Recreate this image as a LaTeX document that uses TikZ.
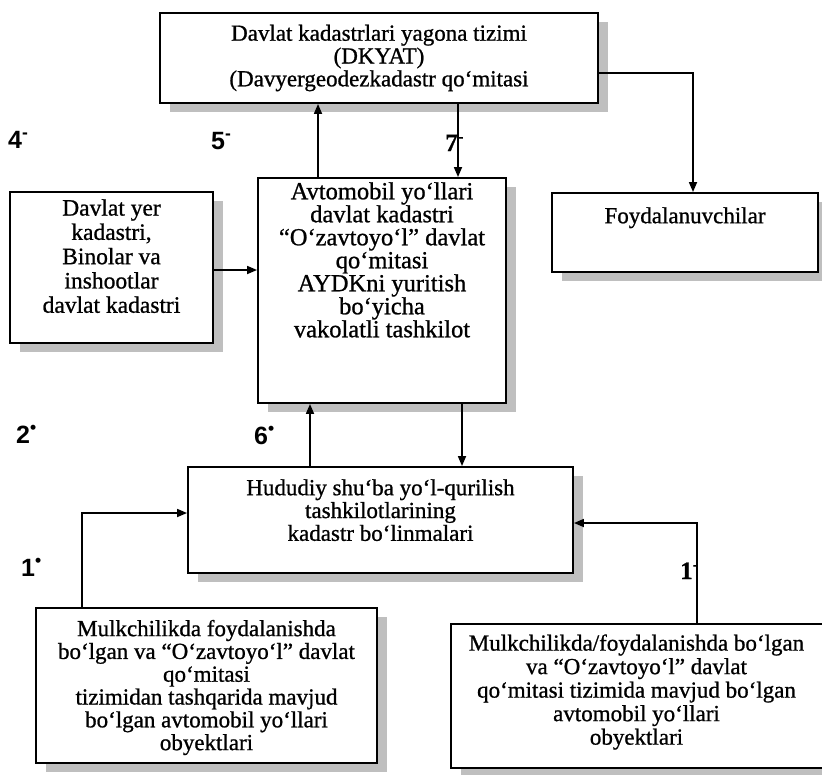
\documentclass[tikz,border=0pt]{standalone}
\usepackage{fontspec}
\setmainfont{Liberation Serif}[RawFeature={embolden=0.9}]
\newfontfamily\labelfont{Liberation Sans}
\usetikzlibrary{arrows.meta,shadows}
\begin{document}
\begin{tikzpicture}[x=1pt,y=-1pt,
  box/.style={draw, line width=1.9pt, fill=white, inner sep=0pt,
    drop shadow={opacity=1, fill=gray!50, shadow xshift=10pt, shadow yshift=-9pt}},
  txt/.style={align=center, inner sep=0pt, font=\fontsize{23}{22.8}\selectfont},
  arr/.style={line width=1.7pt, -{Triangle[length=10pt,width=8pt]}},
  lbl/.style={font=\labelfont\bfseries\fontsize{25}{25}\selectfont, inner sep=0pt, anchor=base west},
  slbl/.style={font=\bfseries\fontsize{25}{25}\selectfont, inner sep=0pt, anchor=base west},
]
\useasboundingbox (0,0) rectangle (822,774);

% boxes
\node[box, minimum width=438pt, minimum height=90pt] (top) at (379,58) {};
\node[txt] (toptxt) at (top.center) {Davlat kadastrlari yagona tizimi\\(DKYAT)\\(Davyergeodezkadastr qo‘mitasi};

\node[box, minimum width=248pt, minimum height=225pt] (mid) at (382,290.5) {};
\node[txt, anchor=north, font=\fontsize{24.5}{23}\selectfont] (midtxt) at ([yshift=-5pt]mid.north) {Avtomobil yo‘llari\\davlat kadastri\\“O‘zavtoyo‘l” davlat\\qo‘mitasi\\AYDKni yuritish\\bo‘yicha\\vakolatli tashkilot};

\node[box, minimum width=203pt, minimum height=151pt] (left) at (111.5,267.5) {};
\node[txt, anchor=north, font=\fontsize{23.5}{24.3}\selectfont] (lefttxt) at ([yshift=-8pt]left.north) {Davlat yer\\kadastri,\\Binolar va\\inshootlar\\davlat kadastri};

\node[box, minimum width=266pt, minimum height=79pt] (foyd) at (685,232.5) {};
\node[txt, anchor=north] (foydtxt) at ([yshift=-15pt]foyd.north) {Foydalanuvchilar};

\node[box, minimum width=385pt, minimum height=106pt] (hud) at (380.5,520) {};
\node[txt, anchor=north] (hudtxt) at ([yshift=-13pt]hud.north) {Hududiy shu‘ba yo‘l-qurilish\\tashkilotlarining\\kadastr bo‘linmalari};

\node[box, minimum width=341pt, minimum height=155pt] (bl) at (206.5,685.5) {};
\node[txt] (bltxt) at ([yshift=-2pt]bl.center) {Mulkchilikda foydalanishda\\bo‘lgan va “O‘zavtoyo‘l” davlat\\qo‘mitasi\\tizimidan tashqarida mavjud\\bo‘lgan avtomobil yo‘llari\\obyektlari};

\node[box, minimum width=379pt, minimum height=144pt] (br) at (640.5,696) {};
\node[txt, font=\fontsize{23}{23.5}\selectfont] (brtxt) at ([xshift=-4pt,yshift=4pt]br.center) {Mulkchilikda/foydalanishda bo‘lgan\\va “O‘zavtoyo‘l” davlat\\qo‘mitasi tizimida mavjud bo‘lgan\\avtomobil yo‘llari\\obyektlari};

% helper coordinates
\coordinate (c5) at (318,0);
\coordinate (c7) at (458,0);
\coordinate (cf) at (693,73);
\coordinate (cl) at (0,270);
\coordinate (c6) at (310,0);
\coordinate (cd) at (462,0);
\coordinate (cbl) at (82,513);
\coordinate (cbr) at (697,523);

% connectors
\draw[arr] (mid.north -| c5) -- (top.south -| c5);
\draw[arr] (top.south -| c7) -- (mid.north -| c7);
\draw[arr] (top.east |- cf) -- (cf) -- (foyd.north -| cf);
\draw[arr] (left.east |- cl) -- (mid.west |- cl);
\draw[arr] (hud.north -| c6) -- (mid.south -| c6);
\draw[arr] (mid.south -| cd) -- (hud.north -| cd);
\draw[arr] (bl.north -| cbl) -- (cbl) -- (hud.west |- cbl);
\draw[arr] (br.north -| cbr) -- (cbr) -- (hud.east |- cbr);

% labels
\node[lbl] (l4) at (8,148) {4\textsuperscript{-}};
\node[lbl] (l5) at (211,149) {5\textsuperscript{-}};
\node[slbl] (l7) at (445,151) {7\textsuperscript{-}};
\node[lbl] (l2) at (16,443) {2\textsuperscript{•}};
\node[lbl] (l6) at (254,444) {6\textsuperscript{•}};
\node[lbl] (l1a) at (21,576) {1\textsuperscript{•}};
\node[slbl] (l1b) at (680,579) {1\textsuperscript{-}};
\end{tikzpicture}
\end{document}
